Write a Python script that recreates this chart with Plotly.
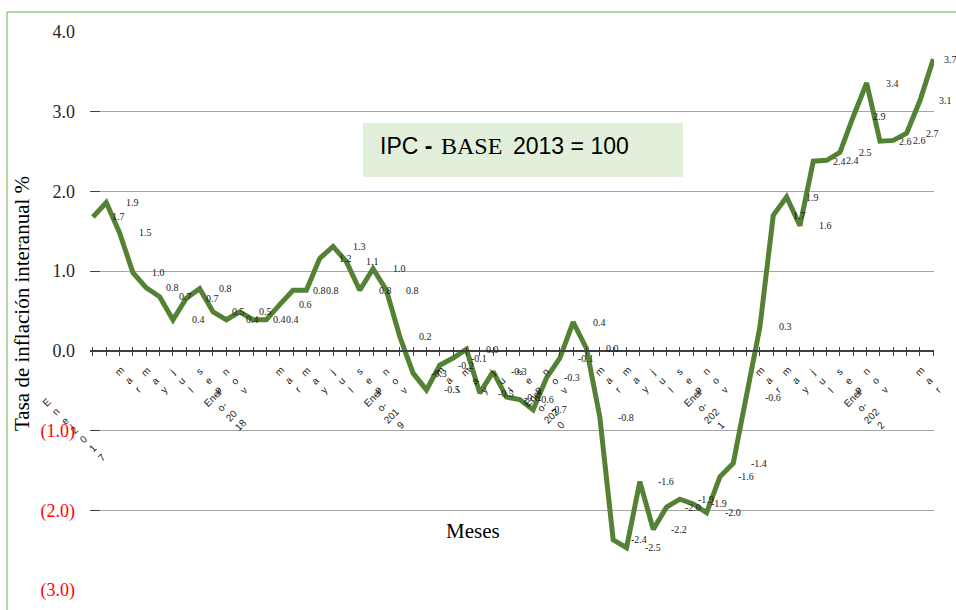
import plotly.graph_objects as go

# ---------------- data ----------------
abrev = ["Ene", "Feb", "Mar", "Abr", "May", "Jun", "Jul", "Ago", "Sep", "Oct", "Nov", "Dic"]
anios = [2017, 2018, 2019, 2020, 2021, 2022]
meses = [f"{m}-{a}" for a in anios for m in abrev][:64]   # Ene-2017 .. Abr-2022

inflacion = [
    1.68, 1.86, 1.48, 0.98, 0.79, 0.68, 0.39, 0.66, 0.78, 0.49, 0.39, 0.49,      # 2017
    0.39, 0.39, 0.58, 0.76, 0.76, 1.16, 1.31, 1.12, 0.76, 1.03, 0.76, 0.18,      # 2018
    -0.28, -0.49, -0.18, -0.09, 0.02, -0.53, -0.26, -0.58, -0.61, -0.74, -0.34, -0.09,  # 2019
    0.36, 0.03, -0.83, -2.37, -2.47, -1.64, -2.24, -1.96, -1.86, -1.92, -2.03, -1.58,   # 2020
    -1.41, -0.58, 0.30, 1.70, 1.93, 1.57, 2.38, 2.39, 2.49, 2.94, 3.36, 2.63,    # 2021
    2.64, 2.73, 3.14, 3.66,                                                       # 2022
]

# tick labels every two months (letters stacked one per line, as in the original)
etiquetas_bimestrales = [
    "E<br>n<br>e<br>2<br>0<br>1<br>7", "m<br>a<br>r", "m<br>a<br>y", "j<br>u<br>l", "s<br>e<br>p", "n<br>o<br>v",
    "Ener<br>o-<br>20<br>18", "m<br>a<br>r", "m<br>a<br>y", "j<br>u<br>l", "s<br>e<br>p", "n<br>o<br>v",
    "Ener<br>o-<br>201<br>9", "m<br>a<br>r", "m<br>a<br>y", "j<br>u<br>l", "s<br>e<br>p", "n<br>o<br>v",
    "Ener<br>o-<br>202<br>0", "m<br>a<br>r", "m<br>a<br>y", "j<br>u<br>l", "s<br>e<br>p", "n<br>o<br>v",
    "Ener<br>o-<br>202<br>1", "m<br>a<br>r", "m<br>a<br>y", "j<br>u<br>l", "s<br>e<br>p", "n<br>o<br>v",
    "Ener<br>o-<br>202<br>2", "m<br>a<br>r",
]
y_ticks = [4, 3, 2, 1, 0, -1, -2, -3]
y_tick_text = ["4.0", "3.0", "2.0", "1.0", "0.0", "(1.0)", "(2.0)", "(3.0)"]

titulo_caja = ["IPC <b>-</b>", "BASE", "2013 = 100"]
titulo_y = "Tasa de inflación interanual %"
titulo_x = "Meses"

# ---------------- figure ----------------
W, H = 956, 610
ML, MR, MT, MB = 90, 22, 32, 20
PW, PH = W - ML - MR, H - MT - MB


def px(xp):
    """pixel x -> paper coordinate"""
    return (xp - ML) / PW


def py(yp):
    """pixel y -> paper coordinate"""
    return (H - MB - yp) / PH


serif = "Liberation Serif, Times New Roman, serif"
sans = "Liberation Sans, Arial, sans-serif"

fig = go.Figure()
fig.add_trace(go.Scatter(
    x=meses, y=inflacion, mode="lines",
    line=dict(color="#548235", width=5),
    hoverinfo="x+y", showlegend=False,
))
# invisible trace to activate the secondary x axis (crossing ticks)
fig.add_trace(go.Scatter(
    x=list(range(len(meses))), y=inflacion, xaxis="x2", mode="lines",
    line=dict(width=0), opacity=0, showlegend=False, hoverinfo="skip",
))

# data labels
n = len(meses)
for i, (m, v) in enumerate(zip(meses, inflacion)):
    fig.add_annotation(
        x=m, y=v, xref="x", yref="y", text=f"{v:.1f}", showarrow=False,
        xshift=26 if i < n - 1 else 17,
        font=dict(family=serif, size=10, color="#1a1a1a"),
    )

# month labels (rotated, letters stacked)
for k, txt in enumerate(etiquetas_bimestrales):
    i = 2 * k
    if k == 0:
        dx, dy = -18, 79
    elif i % 12 == 0:
        dx, dy = -26, 60
    else:
        dx, dy = 9, 30
    fig.add_annotation(
        x=meses[i], y=0, xref="x", yref="y", text=txt, showarrow=False,
        textangle=-45, xanchor="center", yanchor="middle", align="center",
        xshift=dx, yshift=-dy,
        font=dict(family=sans, size=10, color="#1a1a1a"),
    )

y_text_html = [t if v >= 0 else f"<span style='color:#ff0000'>{t}</span>"
               for t, v in zip(y_tick_text, y_ticks)]

fig.update_layout(
    width=W, height=H,
    margin=dict(l=ML, r=MR, t=MT, b=MB, autoexpand=False),
    paper_bgcolor="white", plot_bgcolor="white",
    xaxis=dict(
        type="category", range=[-0.22, 63.05],
        anchor="free", position=3 / 7,
        showline=True, linecolor="#404040", linewidth=1.5,
        ticks="outside", ticklen=4, tickcolor="#404040", tickwidth=1,
        tickmode="array", tickvals=meses, showticklabels=False,
        showgrid=False, zeroline=False, automargin=False,
    ),
    xaxis2=dict(
        overlaying="x", range=[-0.22, 63.05], anchor="free", position=3 / 7,
        showline=False, ticks="inside", ticklen=4, tickcolor="#404040",
        tick0=0, dtick=1, showticklabels=False, showgrid=False, zeroline=False,
    ),
    yaxis=dict(
        range=[-3, 4], tickmode="array", tickvals=y_ticks, ticktext=y_text_html,
        tickfont=dict(family=serif, size=18, color="#262626"),
        ticks="inside", ticklen=10, tickcolor="#404040",
        showgrid=True, gridcolor="#a6a6a6", gridwidth=1,
        showline=False, zeroline=False, ticklabelstandoff=14, automargin=False,
    ),
)

# outer green frame
fig.add_shape(type="rect", xref="paper", yref="paper",
              x0=px(7), x1=px(990), y0=py(640), y1=py(12),
              line=dict(color="#70ad47", width=1), fillcolor="rgba(0,0,0,0)", layer="below")
# title box
fig.add_shape(type="rect", xref="paper", yref="paper",
              x0=px(363), x1=px(683), y0=py(177), y1=py(123),
              line=dict(width=0), fillcolor="#e2efda", layer="below")
for txt, xl, fam, sz in zip(titulo_caja, [380, 441, 513], [sans, serif, sans], [23, 24, 23]):
    fig.add_annotation(
        xref="paper", yref="paper", x=px(xl), y=py(146), xanchor="left", yanchor="middle",
        showarrow=False, text=txt, xshift=-2,
        font=dict(family=fam, size=sz, color="#000000"),
    )
fig.add_annotation(
    xref="paper", yref="paper", x=px(22), y=py(304), textangle=-90,
    xanchor="center", yanchor="middle", showarrow=False, text=titulo_y,
    font=dict(family=serif, size=21, color="#000000"),
)
fig.add_annotation(
    xref="paper", yref="paper", x=px(473), y=py(531),
    xanchor="center", yanchor="middle", showarrow=False, text=titulo_x,
    font=dict(family=serif, size=21, color="#000000"),
)

fig.write_html(
    "out.html",
    config={"displayModeBar": False},
    post_script="document.body.style.margin='0';document.body.style.overflow='hidden';",
)
